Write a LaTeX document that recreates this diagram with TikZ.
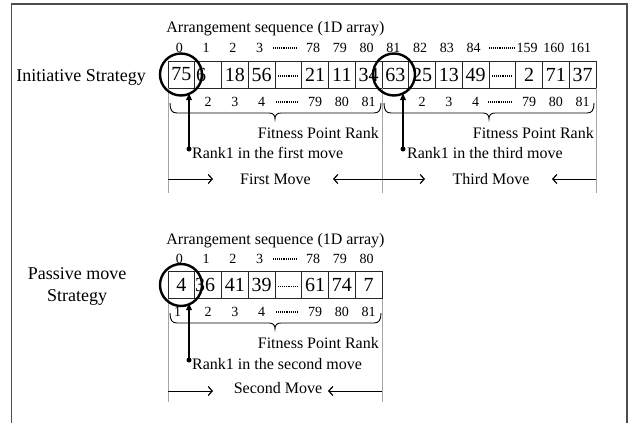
\documentclass[tikz,border=0pt]{standalone}
\usepackage{fontspec}
\setmainfont{Liberation Serif}
\usetikzlibrary{arrows.meta}
\begin{document}
\begin{tikzpicture}[x=1pt,y=-1pt,
  cell/.style={draw=black!85, line width=0.9pt, minimum width=26.75pt, minimum height=27pt, inner sep=0pt, outer sep=0pt},
  val/.style={font=\fontsize{20}{22}\selectfont, inner sep=0pt},
  idx/.style={font=\fontsize{14}{16}\selectfont, inner sep=0pt, anchor=base},
  lbl/.style={font=\fontsize{16}{19}\selectfont, inner sep=0pt, anchor=base},
  big/.style={font=\fontsize{18}{22}\selectfont, inner sep=0pt, anchor=base, align=center},
  dotrow/.style={line width=1.3pt, dash pattern=on 0.8pt off 1.1pt},
  ring/.style={draw, circle, line width=2.4pt, minimum size=42pt, inner sep=0pt},
  pointer/.style={line width=2pt, -{Latex[length=8pt,width=6.5pt]}},
  pin/.style={circle, fill, inner sep=0pt, minimum size=5pt},
  guide/.style={draw=black!35, line width=0.8pt},
  move/.style={line width=1pt, -{Straight Barb[length=4pt,width=9pt,line width=1.2pt]}},
  bracket/.style={line width=0.9pt},
]
\useasboundingbox (0,0) rectangle (632,423);
% outer frame, open at the bottom
\draw[draw=black!70, line width=1.5pt] (11.5,423) -- (11.5,4) -- (627,4) -- (627,423);

% ================= Initiative strategy =================
\node[big] (sA) at (81,81) {Initiative Strategy};
\node[lbl] (tA) at (275.5,32) {Arrangement sequence (1D array)};

% cells of the 162-element row (16 drawn boxes)
\foreach \i in {0,...,15}
  \node[cell] (a\i) at ({168+26.75*(\i+0.5)},74.5) {};
\foreach \i/\v in {0/75,2/18,3/56,5/21,6/11,7/34,8/63,9/25,10/13,11/49,13/2,14/71,15/37}
  \node[val] at (a\i.center) {\v};
\node[val] at ([xshift=-7pt]a1.center) {6};
\foreach \i in {4,12}
  \draw[dotrow] ([xshift=3pt,yshift=-1.5pt]a\i.west) -- ([xshift=-3pt,yshift=-1.5pt]a\i.east);

% indices above
\foreach \i/\v in {0/0,1/1,2/2,3/3,5/78,6/79,7/80,8/81,9/82,10/83,11/84,13/159,14/160,15/161}
  \node[idx] at ({168+26.75*(\i+0.5)-2},52) {\v};
\draw[dotrow] (273,48) -- (296,48);
\draw[dotrow] (489,48) -- (514,48);

% fitness ranks below
\foreach \i/\v in {1/2,2/3,3/4,5/79,6/80,7/81,9/2,10/3,11/4,13/79,14/80,15/81}
  \node[idx] at ({168+26.75*(\i+0.5)},106) {\v};
\draw[dotrow] (276,102) -- (297,102);
\draw[dotrow] (488,102) -- (511,102);

% guide lines
\coordinate (gA1) at (168,88);  \coordinate (gA1e) at (168,193);
\coordinate (gA2) at (382,88);  \coordinate (gA2e) at (382,193);
\coordinate (gA3) at (596,88);  \coordinate (gA3e) at (596,193);
\draw[guide] (gA1) -- (gA1e);
\draw[guide] (gA2) -- (gA2e);
\draw[guide] (gA3) -- (gA3e);

% braces under the ranks
\draw[bracket] (170,103) .. controls (170,110) and (172,113) .. (177,113) -- (269,113)
  .. controls (273,113) and (275,115) .. (275,119) .. controls (275,115) and (277,113) .. (281,113)
  -- (374,113) .. controls (379,113) and (381,110) .. (381,103);
\draw[bracket] (384,103) .. controls (384,110) and (386,113) .. (391,113) -- (483,113)
  .. controls (487,113) and (489,115) .. (489,119) .. controls (489,115) and (491,113) .. (495,113)
  -- (587,113) .. controls (592,113) and (594,110) .. (594,103);
\node[lbl, anchor=base east] (fA1) at (379,138) {Fitness Point Rank};
\node[lbl, anchor=base east] (fA2) at (594,138) {Fitness Point Rank};

% rank-1 markers
\node[ring] (cA1) at (181,74.5) {};
\node[ring] (cA2) at (394,74.5) {};
\node[pin] (dA1) at (189,149) {};
\node[pin] (dA2) at (403,149) {};
\coordinate (pA1) at (189,92);
\coordinate (pA2) at (403,92);
\draw[pointer] (dA1.center) -- (pA1);
\draw[pointer] (dA2.center) -- (pA2);
\node[lbl, anchor=base west] (rA1) at (192,158) {Rank1 in the first move};
\node[lbl, anchor=base west] (rA2) at (407,158) {Rank1 in the third move};

% moves
\node[lbl] (mA1) at (275.5,184) {First Move};
\node[lbl] (mA2) at (491,184) {Third Move};
\coordinate (kA1) at (168,179); \coordinate (kA1e) at (213,179);
\coordinate (kA2) at (382,179); \coordinate (kA2e) at (333,179);
\coordinate (kA3) at (382,179); \coordinate (kA3e) at (425,179);
\coordinate (kA4) at (596,179); \coordinate (kA4e) at (552,179);
\draw[move] (kA1) -- (kA1e);
\draw[move] (kA2) -- (kA2e);
\draw[move] (kA3) -- (kA3e);
\draw[move] (kA4) -- (kA4e);

% ================= Passive move strategy =================
\node[big, anchor=center] (sB) at (77,286) {Passive move\\Strategy};
\node[lbl] (tB) at (275.5,244) {Arrangement sequence (1D array)};

\foreach \i in {0,...,7}
  \node[cell] (b\i) at ({168+26.75*(\i+0.5)},285) {};
\foreach \i/\v in {0/4,2/41,3/39,5/61,6/74,7/7}
  \node[val] at (b\i.center) {\v};
\node[val] at ([xshift=-3pt]b1.center) {36};
\draw[dotrow] ([xshift=3pt,yshift=-1.5pt]b4.west) -- ([xshift=-3pt,yshift=-1.5pt]b4.east);

\foreach \i/\v in {0/0,1/1,2/2,3/3,5/78,6/79,7/80}
  \node[idx] at ({168+26.75*(\i+0.5)-2},263) {\v};
\draw[dotrow] (273,259) -- (296,259);

\foreach \i/\v in {1/2,2/3,3/4,5/79,6/80,7/81}
  \node[idx] at ({168+26.75*(\i+0.5)},316) {\v};
\node[idx] at (177.5,316) {1};
\draw[dotrow] (276,312) -- (297,312);

\coordinate (gB1) at (168,298.5);  \coordinate (gB1e) at (168,402);
\coordinate (gB2) at (382,298.5);  \coordinate (gB2e) at (382,402);
\draw[guide] (gB1) -- (gB1e);
\draw[guide] (gB2) -- (gB2e);

\draw[bracket] (170,313) .. controls (170,320) and (172,323) .. (177,323) -- (269,323)
  .. controls (273,323) and (275,325) .. (275,329) .. controls (275,325) and (277,323) .. (281,323)
  -- (374,323) .. controls (379,323) and (381,320) .. (381,313);
\node[lbl, anchor=base east] (fB1) at (379,348) {Fitness Point Rank};

\node[ring] (cB1) at (181,285) {};
\node[pin] (dB1) at (189,360) {};
\coordinate (pB1) at (189,302);
\draw[pointer] (dB1.center) -- (pB1);
\node[lbl, anchor=base west] (rB1) at (192,369.5) {Rank1 in the second move};

\node[lbl] (mB1) at (278,393.5) {Second Move};
\coordinate (kB1) at (168,391); \coordinate (kB1e) at (213,391);
\coordinate (kB2) at (382,391); \coordinate (kB2e) at (328,391);
\draw[move] (kB1) -- (kB1e);
\draw[move] (kB2) -- (kB2e);
\end{tikzpicture}
\end{document}
